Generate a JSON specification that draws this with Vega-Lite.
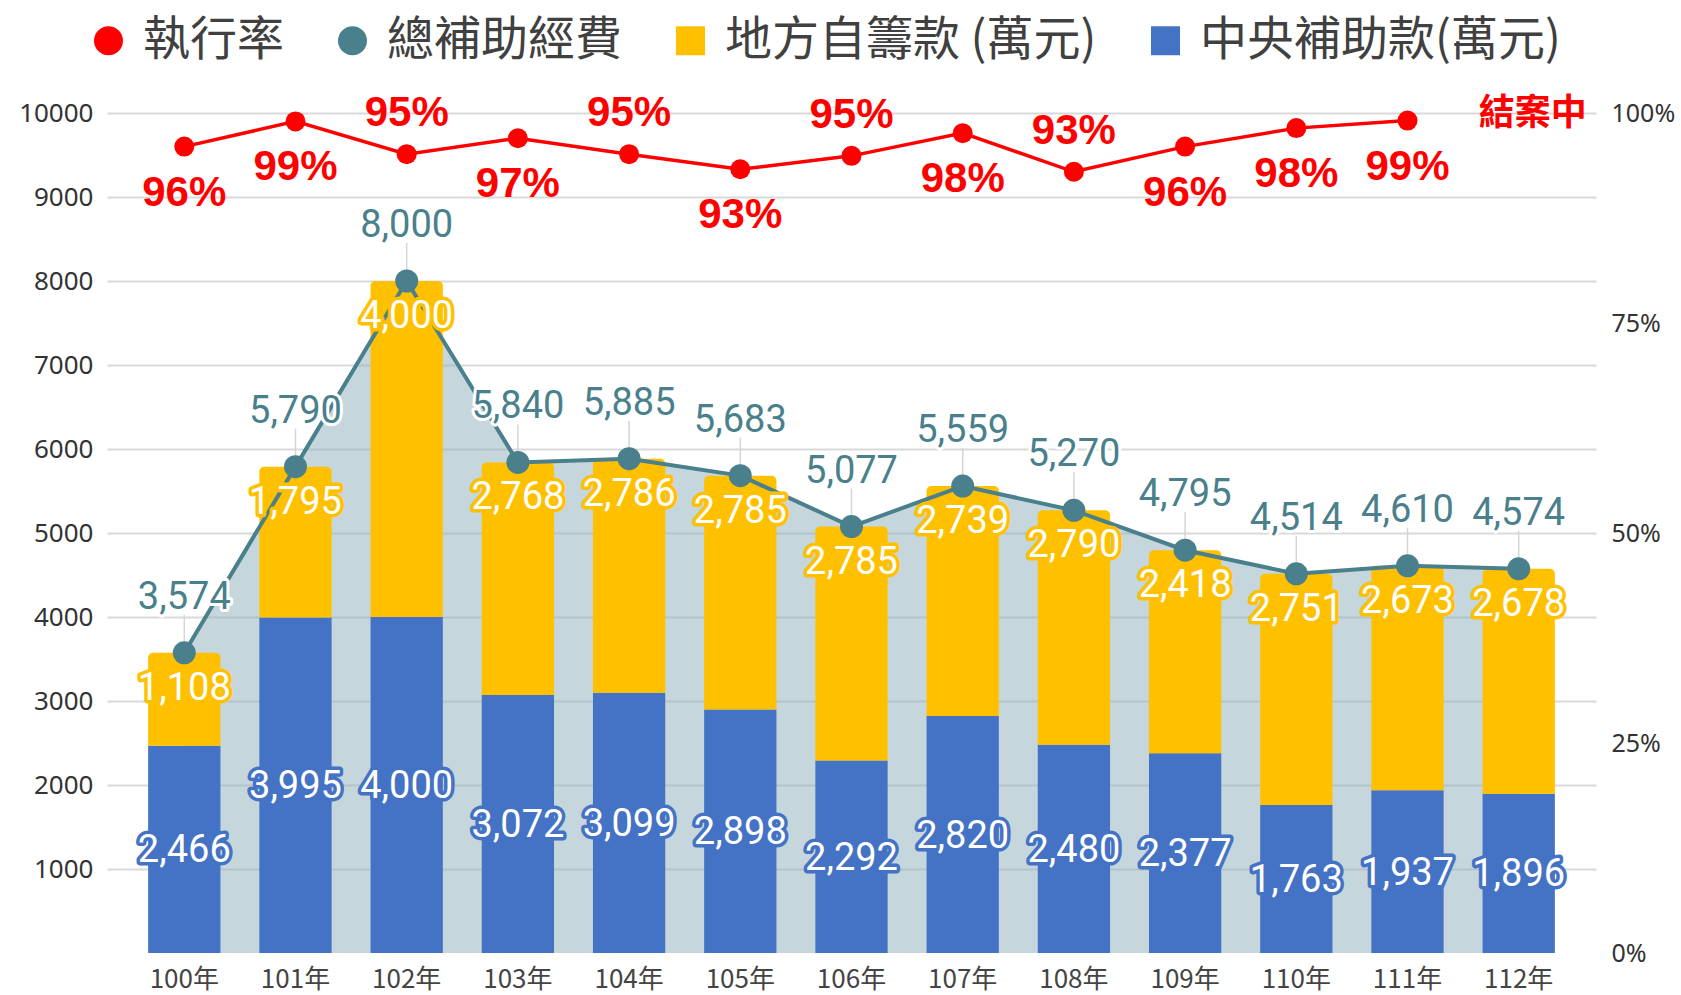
{
  "$schema": "https://vega.github.io/schema/vega-lite/v6.json",
  "width": 1489,
  "height": 840,
  "autosize": {"type": "none"},
  "padding": {"left": 107, "top": 113, "right": 85, "bottom": 42},
  "background": "white",
  "config": {"view": {"stroke": null}},
  "data": {
    "values": [
      {"year": "100年", "central": 2466, "local": 1108, "total": 3574, "rate": 0.960, "side": "below"},
      {"year": "101年", "central": 3995, "local": 1795, "total": 5790, "rate": 0.990, "side": "below"},
      {"year": "102年", "central": 4000, "local": 4000, "total": 8000, "rate": 0.951, "side": "above"},
      {"year": "103年", "central": 3072, "local": 2768, "total": 5840, "rate": 0.970, "side": "below"},
      {"year": "104年", "central": 3099, "local": 2786, "total": 5885, "rate": 0.951, "side": "above"},
      {"year": "105年", "central": 2898, "local": 2785, "total": 5683, "rate": 0.933, "side": "below"},
      {"year": "106年", "central": 2292, "local": 2785, "total": 5077, "rate": 0.949, "side": "above"},
      {"year": "107年", "central": 2820, "local": 2739, "total": 5559, "rate": 0.976, "side": "below"},
      {"year": "108年", "central": 2480, "local": 2790, "total": 5270, "rate": 0.930, "side": "above"},
      {"year": "109年", "central": 2377, "local": 2418, "total": 4795, "rate": 0.960, "side": "below"},
      {"year": "110年", "central": 1763, "local": 2751, "total": 4514, "rate": 0.982, "side": "below"},
      {"year": "111年", "central": 1937, "local": 2673, "total": 4610, "rate": 0.991, "side": "below"},
      {"year": "112年", "central": 1896, "local": 2678, "total": 4574, "rate": null, "side": "none", "note": "結案中"}
    ]
  },
  "encoding": {
    "x": {
      "field": "year", "type": "nominal", "sort": null,
      "scale": {"paddingInner": 0.35, "paddingOuter": 0.37},
      "axis": {
        "title": null, "domain": false, "ticks": false, "labelAngle": 0,
        "labelFont": "Noto Sans CJK TC", "labelFontSize": 26, "labelColor": "#444444",
        "labelPadding": 13
      }
    }
  },
  "layer": [
    {
      "layer": [
        {
          "mark": {"type": "area", "color": "#8BAFB9", "opacity": 0.5},
          "encoding": {
            "y": {
              "field": "total", "type": "quantitative",
              "scale": {"domain": [0, 10000], "nice": false},
              "axis": {
                "title": null, "values": [1000, 2000, 3000, 4000, 5000, 6000, 7000, 8000, 9000, 10000],
                "format": "d", "grid": true, "gridColor": "#D9D9D9", "gridWidth": 2,
                "domain": false, "ticks": false, "labelPadding": 14,
                "labelFont": "Noto Sans", "labelFontSize": 26, "labelColor": "#333333"
              }
            }
          }
        },
        {
          "mark": {"type": "bar"},
          "encoding": {
            "y": {"field": "central", "type": "quantitative"},
            "color": {"datum": "中央補助款(萬元)", "type": "nominal"}
          }
        },
        {
          "mark": {"type": "bar", "cornerRadiusTopLeft": 5, "cornerRadiusTopRight": 5},
          "encoding": {
            "y": {"field": "total", "type": "quantitative"},
            "y2": {"field": "central"},
            "color": {
              "datum": "地方自籌款 (萬元)", "type": "nominal",
              "scale": {
                "domain": ["執行率", "總補助經費", "地方自籌款 (萬元)", "中央補助款(萬元)"],
                "range": ["#FF0000", "#4A7F8C", "#FFC000", "#4472C4"]
              },
              "legend": {
                "orient": "none", "legendX": -22, "legendY": -96,
                "direction": "horizontal", "title": null,
                "labelFont": "Noto Sans CJK TC", "labelFontSize": 47, "labelColor": "#404040",
                "symbolSize": 840, "symbolStrokeWidth": 0, "symbolType": "square",
                "labelOffset": 11, "columnPadding": 45, "labelLimit": 2000,
                "encode": {
                  "symbols": {
                    "update": {
                      "shape": {"signal": "indexof(['執行率','總補助經費'], datum.value) >= 0 ? 'circle' : 'square'"},
                      "opacity": {"value": 1}
                    }
                  }
                }
              }
            }
          }
        },
        {
          "mark": {"type": "point", "shape": "M0,0V-1", "size": 5776, "filled": false, "stroke": "#D6D6D6", "strokeWidth": 1.5, "opacity": 1},
          "encoding": {"y": {"field": "total", "type": "quantitative"}}
        },
        {
          "mark": {"type": "line", "color": "#4A7F8C", "strokeWidth": 4},
          "encoding": {"y": {"field": "total", "type": "quantitative"}}
        },
        {
          "mark": {"type": "point", "filled": true, "color": "#4A7F8C", "size": 529, "opacity": 1},
          "encoding": {"y": {"field": "total", "type": "quantitative"}}
        },
        {
          "mark": {"type": "text", "font": "Roboto", "fontSize": 38, "baseline": "middle", "dy": -55, "fill": "white", "stroke": "white", "strokeWidth": 6, "strokeJoin": "round"},
          "encoding": {"y": {"field": "total", "type": "quantitative"}, "text": {"field": "total", "type": "quantitative", "format": ","}}
        },
        {
          "mark": {"type": "text", "font": "Roboto", "fontSize": 38, "baseline": "middle", "dy": -55, "fill": "#4A7F8C"},
          "encoding": {"y": {"field": "total", "type": "quantitative"}, "text": {"field": "total", "type": "quantitative", "format": ","}}
        },
        {
          "mark": {"type": "text", "font": "Roboto", "fontSize": 38, "baseline": "middle", "dy": 36, "fill": "#FFC000", "stroke": "#FFC000", "strokeWidth": 7, "strokeJoin": "round"},
          "encoding": {"y": {"field": "total", "type": "quantitative"}, "text": {"field": "local", "type": "quantitative", "format": ","}}
        },
        {
          "mark": {"type": "text", "font": "Roboto", "fontSize": 38, "baseline": "middle", "dy": 36, "fill": "white"},
          "encoding": {"y": {"field": "total", "type": "quantitative"}, "text": {"field": "local", "type": "quantitative", "format": ","}}
        },
        {
          "mark": {"type": "text", "font": "Roboto", "fontSize": 38, "baseline": "middle", "dy": 2, "fill": "#4472C4", "stroke": "#4472C4", "strokeWidth": 7, "strokeJoin": "round"},
          "encoding": {"y": {"field": "central", "type": "quantitative", "stack": "zero", "bandPosition": 0.5}, "text": {"field": "central", "type": "quantitative", "format": ","}}
        },
        {
          "mark": {"type": "text", "font": "Roboto", "fontSize": 38, "baseline": "middle", "dy": 2, "fill": "white"},
          "encoding": {"y": {"field": "central", "type": "quantitative", "stack": "zero", "bandPosition": 0.5}, "text": {"field": "central", "type": "quantitative", "format": ","}}
        }
      ]
    },
    {
      "layer": [
        {
          "mark": {"type": "line", "color": "#FF0000", "strokeWidth": 3.5},
          "encoding": {
            "y": {
              "field": "rate", "type": "quantitative",
              "scale": {"domain": [0, 1], "nice": false},
              "axis": {
                "orient": "right", "title": null, "values": [0, 0.25, 0.5, 0.75, 1], "format": ".0%",
                "grid": false, "domain": false, "ticks": false, "labelPadding": 15,
                "labelFont": "Noto Sans", "labelFontSize": 25, "labelColor": "#333333"
              }
            }
          }
        },
        {
          "mark": {"type": "point", "filled": true, "color": "#FF0000", "size": 400, "opacity": 1},
          "encoding": {"y": {"field": "rate", "type": "quantitative"}}
        },
        {
          "transform": [{"filter": "datum.side == 'above'"}],
          "mark": {"type": "text", "font": "Liberation Sans", "fontWeight": "bold", "fontSize": 42, "baseline": "middle", "dy": -41, "fill": "#FF0000"},
          "encoding": {"y": {"field": "rate", "type": "quantitative"}, "text": {"field": "rate", "type": "quantitative", "format": ".0%"}}
        },
        {
          "transform": [{"filter": "datum.side == 'below'"}],
          "mark": {"type": "text", "font": "Liberation Sans", "fontWeight": "bold", "fontSize": 42, "baseline": "middle", "dy": 46, "fill": "#FF0000"},
          "encoding": {"y": {"field": "rate", "type": "quantitative"}, "text": {"field": "rate", "type": "quantitative", "format": ".0%"}}
        },
        {
          "transform": [{"filter": "datum.note != null"}],
          "mark": {"type": "text", "font": "Noto Sans CJK TC", "fontWeight": "bold", "fontSize": 36, "baseline": "middle", "dy": 1, "dx": 14, "fill": "#FF0000"},
          "encoding": {"y": {"datum": 1, "type": "quantitative"}, "text": {"field": "note"}}
        }
      ]
    }
  ],
  "resolve": {"scale": {"y": "independent"}, "axis": {"y": "independent"}}
}
